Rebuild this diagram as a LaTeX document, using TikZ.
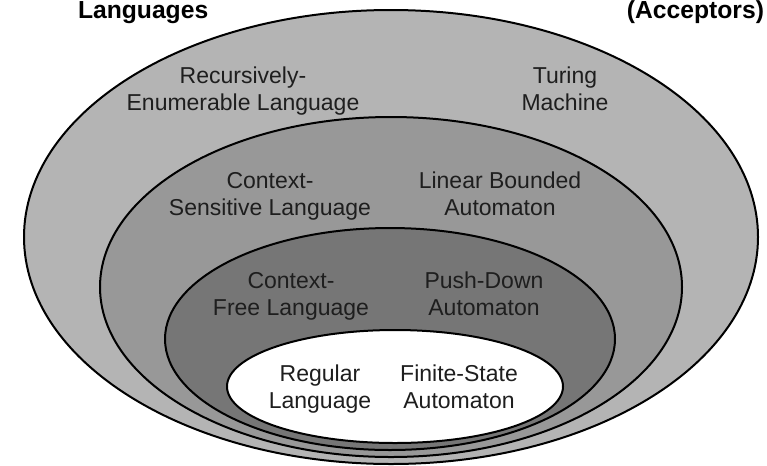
\documentclass[tikz,border=0pt]{standalone}
\usepackage{fontspec}
\setmainfont{Liberation Sans}
\tikzset{every picture/.style={line width=1.5pt}}

\begin{document}
\begin{tikzpicture}[x=0.75pt,y=0.75pt,yscale=-1,xscale=1,
  classtext/.style={anchor=north,inner sep=0pt,align=center,font=\fontsize{17.25}{20.25}\selectfont,color={rgb, 255:red, 30; green, 30; blue, 30 }},
  headtext/.style={inner sep=0pt,font=\bfseries\fontsize{18.5}{22}\selectfont}]
%set diagram left start at 0, and has height of 465
\useasboundingbox (0,0) rectangle (767,465);

%Shape: Ellipse [recursively enumerable]
\draw  [fill={rgb, 255:red, 180; green, 180; blue, 180 }  ,fill opacity=1 ] (24,237) .. controls (24,111.63) and (188.31,10) .. (391,10) .. controls (593.69,10) and (758,111.63) .. (758,237) .. controls (758,362.37) and (593.69,464) .. (391,464) .. controls (188.31,464) and (24,362.37) .. (24,237) -- cycle ;
%Shape: Ellipse [context sensitive]
\draw  [fill={rgb, 255:red, 152; green, 152; blue, 152 }  ,fill opacity=1 ] (100,287) .. controls (100,193.11) and (230.28,117) .. (391,117) .. controls (551.72,117) and (682,193.11) .. (682,287) .. controls (682,380.89) and (551.72,457) .. (391,457) .. controls (230.28,457) and (100,380.89) .. (100,287) -- cycle ;
%Shape: Ellipse [context free]
\draw  [fill={rgb, 255:red, 118; green, 118; blue, 118 }  ,fill opacity=1 ] (165,339) .. controls (165,277.69) and (265.73,228) .. (390,228) .. controls (514.27,228) and (615,277.69) .. (615,339) .. controls (615,400.31) and (514.27,450) .. (390,450) .. controls (265.73,450) and (165,400.31) .. (165,339) -- cycle ;
%Shape: Ellipse [regular]
\draw  [fill={rgb, 255:red, 255; green, 255; blue, 255 }  ,fill opacity=1 ] (227,386.5) .. controls (227,355.3) and (302.21,330) .. (395,330) .. controls (487.79,330) and (563,355.3) .. (563,386.5) .. controls (563,417.7) and (487.79,443) .. (395,443) .. controls (302.21,443) and (227,417.7) .. (227,386.5) -- cycle ;

% Text Node
\draw (77,18.5) node (lang) [headtext,anchor=base west] {Languages};
% Text Node
\draw (765,18.5) node (accp) [headtext,anchor=base east] {(Acceptors)};
% Text Node
\draw (243,65.5) node (re) [classtext] {Recursively-\\Enumerable Language};
% Text Node
\draw (565,65.5) node (tm) [classtext] {Turing\\Machine};
% Text Node
\draw (270,171) node (cs) [classtext] {Context-\\Sensitive Language};
% Text Node
\draw (500,171) node (lba) [classtext] {Linear Bounded\\Automaton};
% Text Node
\draw (291,271) node (cf) [classtext] {Context-\\Free Language};
% Text Node
\draw (484,271) node (pda) [classtext] {Push-Down\\Automaton};
% Text Node
\draw (320,364) node (rl) [classtext] {Regular\\Language};
% Text Node
\draw (459,364) node (fsa) [classtext] {Finite-State\\Automaton};

\end{tikzpicture}
\end{document}
